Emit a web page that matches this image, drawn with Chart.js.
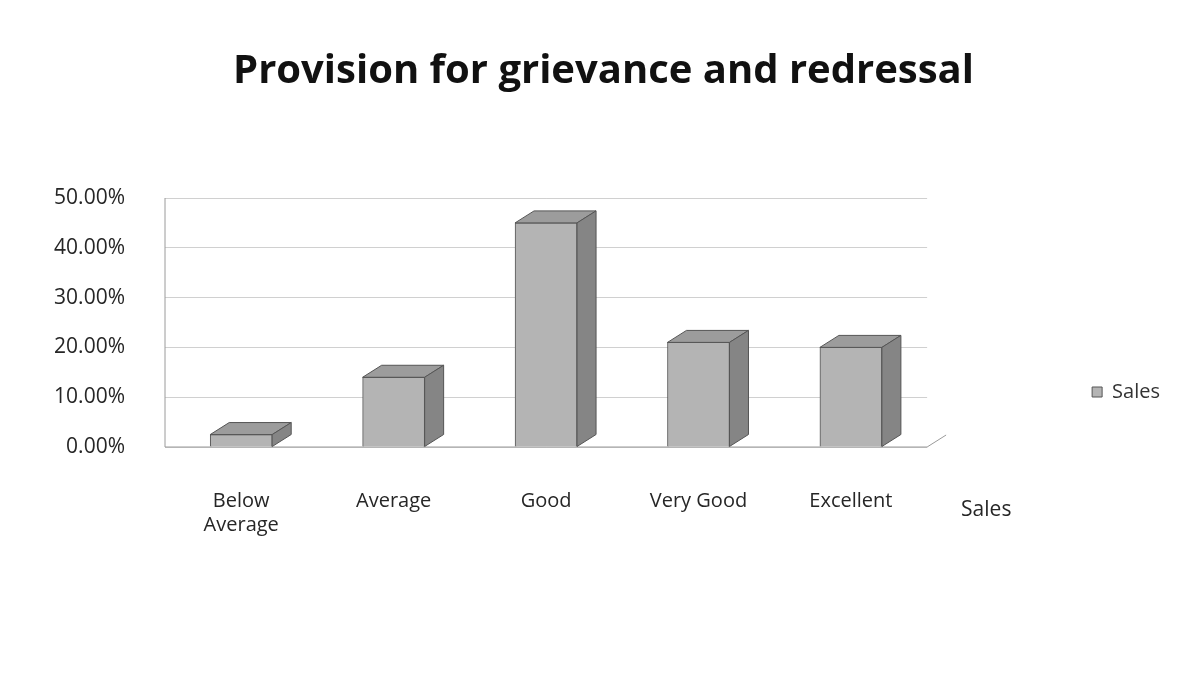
<!DOCTYPE html>
<html>
<head>
<meta charset="utf-8">
<script src="https://cdn.jsdelivr.net/npm/chart.js@4/dist/chart.umd.min.js"></script>
<style>
html,body{margin:0;padding:0;background:#fff;}
#wrap{width:1185px;height:689px;position:relative;}
</style>
</head>
<body>
<div id="wrap"><canvas id="c" width="1185" height="689"></canvas></div>
<script>
const categories = [["Below", "Average"], "Average", "Good", "Very Good", "Excellent"];
const seriesName = "Sales";
const salesValues = [0.025, 0.14, 0.45, 0.21, 0.20];
const yTicks = [0, 0.1, 0.2, 0.3, 0.4, 0.5];
const titleText = "Provision for grievance and redressal";

const FONT = "'Open Sans', 'DejaVu Sans', sans-serif";
const DX = 19, DY = 12;

const bar3d = {
  id: 'bar3d',
  afterLayout(chart) {
    const lg = chart.legend;
    if (!lg) return;
    const h = lg.bottom - lg.top, w = lg.right - lg.left;
    const cy = chart.chartArea.bottom - 55;
    lg.top = cy - h / 2; lg.bottom = cy + h / 2;
    lg.left = chart.width - 15 - w; lg.right = chart.width - 15;
  },
  beforeDatasetsDraw(chart) {
    const ctx = chart.ctx, a = chart.chartArea;
    ctx.save();
    ctx.strokeStyle = '#9a9a9a';
    ctx.lineWidth = 1;
    ctx.beginPath();
    ctx.moveTo(a.left, a.top);
    ctx.lineTo(a.left, a.bottom);
    ctx.lineTo(a.right, a.bottom);
    ctx.lineTo(a.right + DX, a.bottom - DY);
    ctx.stroke();
    ctx.restore();
  },
  afterDatasetsDraw(chart) {
    const ctx = chart.ctx, a = chart.chartArea;
    const meta = chart.getDatasetMeta(0);
    ctx.save();
    meta.data.forEach(el => {
      const p = el.getProps(['x', 'y', 'base', 'width'], true);
      const l = p.x - p.width / 2, r = p.x + p.width / 2;
      ctx.beginPath();
      ctx.moveTo(l, p.y);
      ctx.lineTo(l + DX, p.y - DY);
      ctx.lineTo(r + DX, p.y - DY);
      ctx.lineTo(r, p.y);
      ctx.closePath();
      ctx.fillStyle = '#9c9c9c';
      ctx.fill();
      ctx.strokeStyle = '#555';
      ctx.lineWidth = 1;
      ctx.stroke();
      ctx.beginPath();
      ctx.moveTo(r, p.y);
      ctx.lineTo(r + DX, p.y - DY);
      ctx.lineTo(r + DX, p.base - DY);
      ctx.lineTo(r, p.base);
      ctx.closePath();
      ctx.fillStyle = '#858585';
      ctx.fill();
      ctx.stroke();
    });
    ctx.fillStyle = '#262626';
    ctx.font = '21px ' + FONT;
    ctx.textAlign = 'left';
    ctx.textBaseline = 'middle';
    ctx.fillText(seriesName, a.right + 34, a.bottom + 63);
    ctx.restore();
  }
};

new Chart(document.getElementById('c'), {
  type: 'bar',
  data: {
    labels: categories,
    datasets: [{
      label: seriesName,
      data: salesValues,
      backgroundColor: '#b4b4b4',
      borderColor: '#555',
      borderWidth: 1,
      barThickness: 62
    }]
  },
  options: {
    responsive: false,
    animation: false,
    layout: { padding: { left: 22, right: 0, top: 0, bottom: 0 } },
    plugins: {
      title: {
        display: true,
        text: titleText,
        color: '#111',
        font: { family: FONT, size: 40, weight: 'bold' },
        padding: { top: 48, bottom: 102 }
      },
      legend: {
        position: 'right',
        labels: {
          color: '#333',
          font: { family: FONT, size: 20 },
          boxWidth: 10,
          boxHeight: 10,
          padding: 180
        }
      },
      tooltip: { enabled: false }
    },
    scales: {
      x: {
        grid: { display: false, drawTicks: false },
        border: { display: false },
        afterFit(scale) { scale.height = 242; },
        ticks: {
          color: '#262626',
          font: { family: FONT, size: 20 },
          padding: 42,
          maxRotation: 0
        }
      },
      y: {
        min: 0,
        max: 0.5,
        afterBuildTicks(scale) { scale.ticks = yTicks.map(v => ({ value: v })); },
        afterFit(scale) { scale.width = 143; },
        grid: { color: '#d0d0d0', drawTicks: false },
        border: { display: false },
        ticks: {
          color: '#262626',
          font: { family: FONT, size: 21 },
          padding: 40,
          callback: v => (v * 100).toFixed(2) + '%'
        }
      }
    }
  },
  plugins: [bar3d]
});
</script>
</body>
</html>
